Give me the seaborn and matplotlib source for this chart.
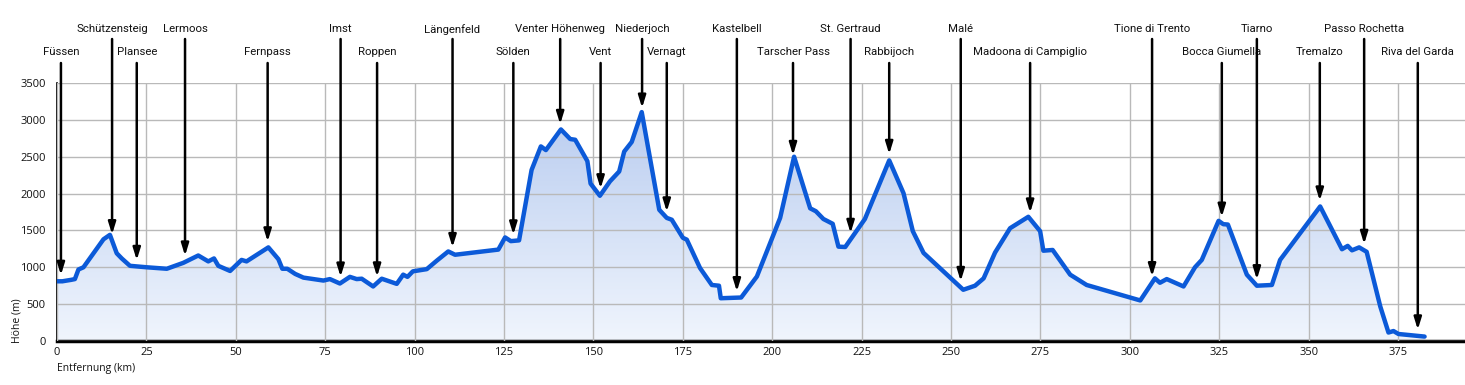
import numpy as np
import matplotlib
matplotlib.use('Agg')
import matplotlib.pyplot as plt
import seaborn as sns

# Höhenprofil (Entfernung in km, Höhe in m)
km = [0, 1.5, 4, 5, 6, 7.4, 10.2, 13, 14.8, 16.7,
      18.1, 20.4, 25.1, 30.7, 35.3, 39.5, 42.3, 43.9, 45.1, 48.4,
      51.6, 53, 59.1, 61.9, 63, 64.4, 66.6, 68.9, 74.5, 76.3,
      79.1, 81.9, 83.8, 85.2, 88.4, 90.8, 95, 96.8, 98, 99.5,
      103.4, 106.2, 109.4, 111.3, 123.4, 125.3, 126.9, 129.2, 132.7, 135.3,
      136.7, 140.9, 143.5, 144.9, 148.3, 149.2, 151.8, 154.6, 157.2, 158.6,
      160.7, 163.5, 168.4, 170.5, 171.9, 175, 176.1, 179.8, 183.1, 185.1,
      185.6, 191.3, 195.7, 202.2, 206.1, 210.6, 212.2, 214.3, 216.9, 218.5,
      220.4, 225.9, 232.7, 236.7, 239.3, 242.3, 253.4, 256.7, 259.1, 262.3,
      266.5, 271.6, 274.9, 275.8, 278.4, 283.3, 287.9, 302.9, 307.0, 308.4,
      310.3, 315.0, 318.2, 320.1, 324.8, 326.1, 327.4, 332.7, 335.5, 339.7,
      342.0, 353.2, 359.3, 360.9, 362.1, 364.1, 366.2, 370.0, 372.3, 373.7,
      375.1, 382.4]
hoehe = [810, 810, 830, 840, 970, 1000, 1190, 1380, 1440, 1190,
         1120, 1020, 1000, 980, 1060, 1160, 1080, 1120, 1020, 950,
         1100, 1080, 1270, 1110, 980, 980, 910, 860, 820, 840,
         780, 870, 840, 845, 740, 845, 775, 900, 870, 945,
         975, 1090, 1215, 1170, 1240, 1405, 1355, 1365, 2320, 2640,
         2590, 2870, 2740, 2730, 2440, 2135, 1970, 2165, 2300, 2570,
         2700, 3105, 1780, 1670, 1645, 1400, 1375, 990, 760, 750,
         580, 590, 875, 1670, 2500, 1800, 1760, 1655, 1590, 1280,
         1275, 1655, 2450, 2005, 1490, 1195, 695, 750, 850, 1200,
         1530, 1685, 1490, 1225, 1235, 900, 760, 550, 850, 790,
         840, 740, 1000, 1100, 1630, 1585, 1580, 900, 750, 760,
         1100, 1825, 1245, 1290, 1230, 1270, 1210, 470, 115, 135,
         95, 60]

# Wegpunkte
orte = ['Füssen', 'Schützensteig', 'Plansee', 'Lermoos', 'Fernpass', 'Imst',
        'Roppen', 'Längenfeld', 'Sölden', 'Venter Höhenweg', 'Vent', 'Niederjoch',
        'Vernagt', 'Kastelbell', 'Tarscher Pass', 'St. Gertraud', 'Rabbijoch',
        'Malé', 'Madoona di Campiglio', 'Tione di Trento', 'Bocca Giumella',
        'Tiarno', 'Tremalzo', 'Passo Rochetta', 'Riva del Garda']
orte_km = [1.1, 15.4, 22.3, 35.8, 58.9, 79.3, 89.5, 110.6, 127.6, 140.7, 152.0,
           163.6, 170.5, 190.1, 205.8, 221.9, 232.7, 252.7, 272.1, 306.2, 325.7,
           335.5, 353.1, 365.5, 380.5]

x_ticks = list(range(0, 376, 25))
y_ticks = list(range(0, 3501, 500))

sns.set_style('white')
plt.rcParams['font.family'] = ['Open Sans', 'DejaVu Sans']

fig = plt.figure(figsize=(14.65, 3.85), dpi=100)
ax = fig.add_axes([57 / 1465, 1 - 341 / 385, 1 - 57 / 1465, 258 / 385])

x_max = 393.7
ax.set_xlim(0, x_max)
ax.set_ylim(0, 3500)

# Farbverlauf unter der Kurve
verlauf = np.linspace(0, 1, 256).reshape(-1, 1)
cmap = matplotlib.colors.LinearSegmentedColormap.from_list('blau', ['#f0f5fd', '#b3c8ee'])
img = ax.imshow(verlauf, cmap=cmap, aspect='auto', origin='lower',
                extent=(0, x_max, 0, 3500), zorder=1)
fl = ax.fill_between(km, hoehe, 0, color='none', zorder=1)
clip = matplotlib.path.Path(fl.get_paths()[0].vertices)
img.set_clip_path(clip, ax.transData)

ax.set_xticks(x_ticks)
ax.set_yticks(y_ticks)
ax.grid(True, color='#b9b9b9', linewidth=1.0, zorder=2)
ax.set_axisbelow(False)
for gl in ax.get_xgridlines() + ax.get_ygridlines():
    gl.set_zorder(2)

sns.lineplot(x=km, y=hoehe, ax=ax, color='#0c5ad8', linewidth=3.2, zorder=3)

ax.tick_params(axis='both', length=0, labelsize=8, colors='#111111')
ax.tick_params(axis='y', pad=8)
ax.tick_params(axis='x', pad=4)
for s in ['top', 'right']:
    ax.spines[s].set_visible(False)
ax.spines['left'].set_linewidth(1.2)
ax.spines['left'].set_color('black')
ax.spines['bottom'].set_linewidth(2.5)
ax.spines['bottom'].set_color('black')

# Wegpunkt-Pfeile und Beschriftungen
trans = ax.get_xaxis_transform()
for i, (name, pos) in enumerate(zip(orte, orte_km)):
    oben = i % 2 == 1
    y_text = 1.209 if oben else 1.120
    y_start = 1.1705 if oben else 1.0775
    spitze = np.interp(pos, km, hoehe)
    ax.annotate('', xy=(pos, spitze), xycoords='data',
                xytext=(pos, y_start), textcoords=trans,
                arrowprops=dict(arrowstyle='-|>,head_length=0.55,head_width=0.17',
                                color='black', lw=1.8, mutation_scale=13,
                                shrinkA=0, shrinkB=4.5),
                annotation_clip=False, zorder=5)
    ax.text(pos, y_text, name, transform=trans, ha='center', va='center',
            fontsize=8.2, family=['Roboto', 'DejaVu Sans'],
            color='#111111', clip_on=False)

ax.set_xlabel('')
ax.set_ylabel('')
fig.text(57 / 1465, 1 - 369 / 385, 'Entfernung (km)', ha='left', va='center',
         fontsize=7.5, color='#111111')
fig.text(17 / 1465, 1 - 343 / 385, 'Höhe (m)', ha='center', va='bottom',
         rotation=90, fontsize=7.5, color='#111111')

fig.savefig('out.png', dpi=100)
